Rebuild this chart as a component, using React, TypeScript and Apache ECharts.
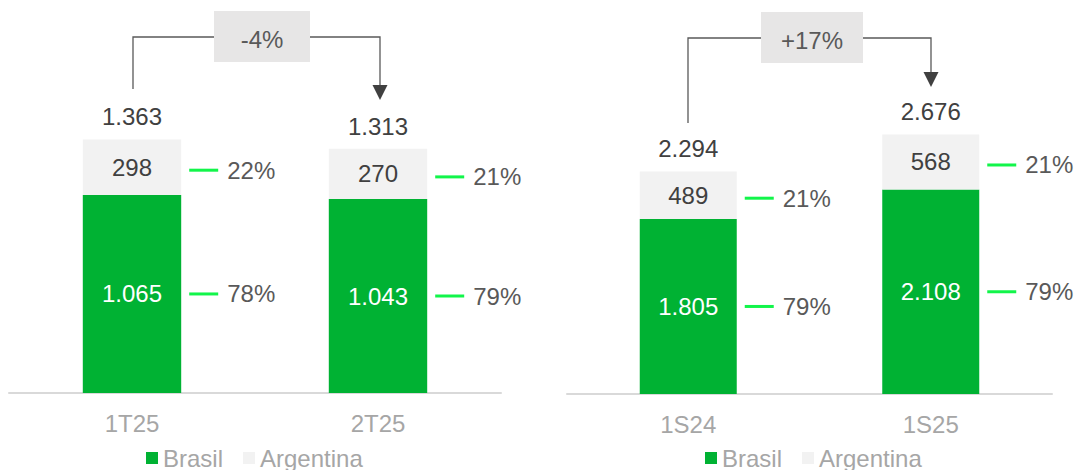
import React, { useEffect, useRef } from "react";
import * as echarts from "echarts";

// ---- data ----
const quarterCategories = ["1T25", "2T25"];
const quarterBrasil = [1065, 1043];
const quarterArgentina = [298, 270];

const semesterCategories = ["1S24", "1S25"];
const semesterBrasil = [1805, 2108];
const semesterArgentina = [489, 568];

const legendNames = ["Brasil", "Argentina"];

// ---- styles ----
const GREEN = "#00B233";
const GRAY = "#F2F2F2";
const PCT_LINE = "#12F54A";
const DARK = "#404040";
const MID = "#595959";
const AXIS_TEXT = "#A6A6A6";
const FONT = "'Liberation Sans', Arial, sans-serif";
const FS = 24;

function fmt(n: number): string {
  return String(Math.round(n)).replace(/\B(?=(\d{3})+(?!\d))/g, ".");
}

function changeLabel(a: number, b: number): string {
  const v = Math.round((b / a - 1) * 100);
  return (v > 0 ? "+" : "") + v + "%";
}

function panelSeries(idx: number, brasil: number[], argentina: number[]) {
  const totals = brasil.map((b, i) => b + argentina[i]);
  const common = {
    type: "bar",
    xAxisIndex: idx,
    yAxisIndex: idx,
    barWidth: "40%",
    barGap: "-100%",
  };
  const pctLabel = (arr: number[], dy: number) => ({
    show: true,
    position: "right",
    distance: 8,
    offset: [0, dy],
    formatter: (p: any) =>
      "{l|}{p|" + Math.round((arr[p.dataIndex] / totals[p.dataIndex]) * 100) + "%}",
    rich: {
      l: { width: 29, height: 3, backgroundColor: PCT_LINE },
      p: { fontSize: FS, color: MID, fontFamily: FONT, padding: [0, 0, 0, 9] },
    },
  });
  return [
    {
      ...common,
      name: "Brasil",
      stack: "real" + idx,
      data: brasil,
      itemStyle: { color: GREEN },
      label: {
        show: true,
        position: "inside",
        color: "#FFFFFF",
        fontSize: FS,
        fontFamily: FONT,
        formatter: (p: any) => fmt(p.value),
      },
    },
    {
      ...common,
      name: "Argentina",
      stack: "real" + idx,
      data: argentina,
      itemStyle: { color: GRAY },
      label: {
        show: true,
        position: "inside",
        color: DARK,
        fontSize: FS,
        fontFamily: FONT,
        formatter: (p: any) => fmt(p.value),
      },
    },
    {
      ...common,
      name: "pctB" + idx,
      stack: "ov" + idx,
      data: brasil,
      silent: true,
      itemStyle: { color: "rgba(0,0,0,0)" },
      label: pctLabel(brasil, 0),
    },
    {
      ...common,
      name: "pctA" + idx,
      stack: "ov" + idx,
      data: argentina,
      silent: true,
      itemStyle: { color: "rgba(0,0,0,0)" },
      label: pctLabel(argentina, 3),
    },
    {
      type: "line",
      name: "total" + idx,
      xAxisIndex: idx,
      yAxisIndex: idx,
      data: totals,
      symbol: "circle",
      symbolSize: 1,
      showSymbol: true,
      silent: true,
      itemStyle: { color: "rgba(0,0,0,0)" },
      lineStyle: { opacity: 0 },
      label: {
        show: true,
        position: "top",
        distance: 10,
        color: DARK,
        fontSize: FS,
        fontFamily: FONT,
        formatter: (p: any) => fmt(p.value),
      },
    },
  ];
}

function xAxisFor(idx: number, cats: string[]) {
  return {
    type: "category",
    gridIndex: idx,
    data: cats,
    axisTick: { show: false },
    axisLine: { lineStyle: { color: "#D9D9D9", width: 2 } },
    axisLabel: { color: AXIS_TEXT, fontSize: FS, fontFamily: FONT, margin: 18 },
  };
}

function legendAt(left: number) {
  return {
    left,
    top: 441,
    data: legendNames,
    icon: "rect",
    itemWidth: 12,
    itemHeight: 12,
    itemGap: 20,
    selectedMode: false,
    textStyle: { color: AXIS_TEXT, fontSize: FS, fontFamily: FONT },
  };
}

const LINE = "#595959";

export default function App() {
  const ref = useRef<HTMLDivElement>(null);
  useEffect(() => {
    if (!ref.current) return;
    const chart = echarts.init(ref.current, undefined, { renderer: "svg" });
    const qT = quarterBrasil.map((b, i) => b + quarterArgentina[i]);
    const sT = semesterBrasil.map((b, i) => b + semesterArgentina[i]);
    chart.setOption({
      animation: false,
      grid: [
        { left: 9, width: 492, top: 21, height: 372 },
        { left: 567, width: 485, top: 6, height: 388 },
      ],
      xAxis: [xAxisFor(0, quarterCategories), xAxisFor(1, semesterCategories)],
      yAxis: [
        { type: "value", gridIndex: 0, min: 0, max: 2000, show: false },
        { type: "value", gridIndex: 1, min: 0, max: 4000, show: false },
      ],
      legend: [legendAt(141), legendAt(700)],
      series: [
        ...panelSeries(0, quarterBrasil, quarterArgentina),
        ...panelSeries(1, semesterBrasil, semesterArgentina),
      ],
      graphic: [
        // left panel connector
        { type: "polyline", shape: { points: [[133, 89], [133, 37], [214, 37]] }, style: { stroke: LINE, lineWidth: 1.3, fill: null } },
        { type: "rect", shape: { x: 214, y: 11, width: 96, height: 51 }, style: { fill: "#E7E6E6" } },
        { type: "text", x: 262, y: 39, style: { text: changeLabel(qT[0], qT[1]), fill: MID, fontSize: FS, fontFamily: FONT, align: "center", verticalAlign: "middle" } },
        { type: "polyline", shape: { points: [[310, 37], [380, 37], [380, 86]] }, style: { stroke: LINE, lineWidth: 1.3, fill: null } },
        { type: "polygon", shape: { points: [[372.5, 85], [387.5, 85], [380, 100]] }, style: { fill: DARK } },
        // right panel connector
        { type: "polyline", shape: { points: [[688, 123], [688, 38], [761, 38]] }, style: { stroke: LINE, lineWidth: 1.3, fill: null } },
        { type: "rect", shape: { x: 761, y: 12, width: 102, height: 51 }, style: { fill: "#E7E6E6" } },
        { type: "text", x: 812, y: 40, style: { text: changeLabel(sT[0], sT[1]), fill: MID, fontSize: FS, fontFamily: FONT, align: "center", verticalAlign: "middle" } },
        { type: "polyline", shape: { points: [[863, 38], [931, 38], [931, 73]] }, style: { stroke: LINE, lineWidth: 1.3, fill: null } },
        { type: "polygon", shape: { points: [[923.5, 72], [938.5, 72], [931, 87]] }, style: { fill: DARK } },
      ],
    });
    return () => chart.dispose();
  }, []);
  return (
    <div
      ref={ref}
      style={{ position: "absolute", left: 0, top: 0, width: 1074, height: 470 }}
    />
  );
}
